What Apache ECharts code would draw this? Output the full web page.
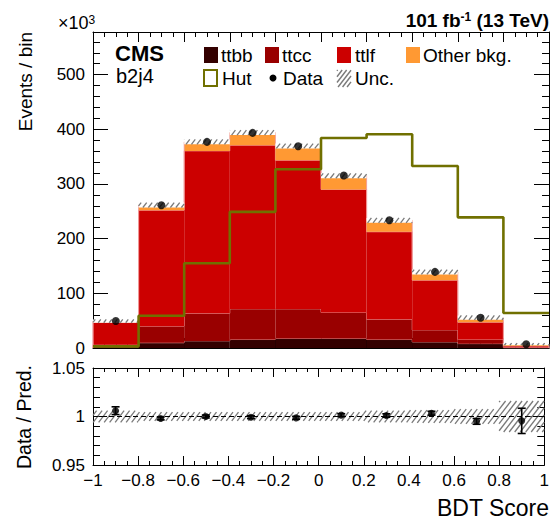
<!DOCTYPE html>
<html><head><meta charset="utf-8">
<script src="https://cdn.jsdelivr.net/npm/echarts@6/dist/echarts.min.js"></script>
<style>html,body{margin:0;padding:0;background:#fff;}#c{width:552px;height:525px;}</style>
</head><body><div id="c"></div>
<script>
// ---- data ----
const binEdges = [-1, -0.8, -0.6, -0.4, -0.2, 0, 0.2, 0.4, 0.6, 0.8, 1];
const ttbb  = [2, 9.5, 13, 15.5, 17.5, 17.5, 15.5, 11, 8, 0.5];
const ttcc  = [4, 30.5, 50.5, 56, 54, 47.5, 37, 22, 7.5, 1];
const ttlf  = [41, 212, 297, 299.5, 272, 225, 160, 91, 31.5, 2];
const other = [2.2, 9.5, 16.5, 23, 26, 25, 21, 15, 8.5, 3.5];
const hut   = [3, 59, 155, 249, 327, 384, 391, 333, 239, 64];
const dataEv = [49.5, 261, 377, 393.5, 369, 315.5, 233.8, 139.3, 55.2, 7];
const mainUnc = [3, 4.5, 4.5, 4.5, 4.5, 4.5, 4.5, 4.5, 4, 2];
const ratio    = [1.006, 0.998, 1.000, 0.9993, 0.9986, 1.0014, 1.001, 1.0034, 0.995, 0.9955];
const ratioErr = [0.004, 0.0015, 0.0015, 0.0015, 0.0015, 0.0015, 0.0018, 0.002, 0.003, 0.013];
const ratioUnc = [0.006, 0.0045, 0.0045, 0.0045, 0.0045, 0.0045, 0.006, 0.0065, 0.0075, 0.016];
const yTicksMain = [0, 100, 200, 300, 400, 500];
const yMaxMain = 578;

const FONT = '"Liberation Sans", Arial, Helvetica, sans-serif';
const COL = {ttbb:'#330000', ttcc:'#990000', ttlf:'#cc0000', other:'#ff9933', hut:'#707000', hatch:'#7a7a7a'};

const n = ttbb.length;
const centers = binEdges.slice(0, n).map((e, i) => (e + binEdges[i + 1]) / 2);

function hatch(x0, y0, x1, y1, sp, m, color, w) {
  const out = [];
  const step = sp * m;
  const kStart = m * x0 + y0, kEnd = m * x1 + y1;
  for (let k = Math.ceil(kStart / step) * step; k <= kEnd; k += step) {
    const xa = Math.max(x0, (k - y1) / m), xb = Math.min(x1, (k - y0) / m);
    if (xb > xa) out.push({type:'line', shape:{x1:xa, y1:k - m * xa, x2:xb, y2:k - m * xb}, style:{stroke:color, lineWidth:w}});
  }
  return out;
}

let base = new Array(n).fill(0);
function stackSeries(name, values, color, z) {
  const tops = base.map((b, i) => b + values[i]);
  const data = values.map((v, i) => [binEdges[i], binEdges[i + 1], base[i], tops[i],
    i > 0 ? tops[i - 1] : 0, i === n - 1 ? 0 : tops[i]]);
  base = tops;
  const edge = {stroke:'rgba(240,150,150,0.8)', lineWidth:1};
  return {
    type:'custom', name, xAxisIndex:0, yAxisIndex:0, z, data,
    encode:{x:[0, 1], y:[2, 3]},
    renderItem:(p, api) => {
      const a = api.coord([api.value(0), api.value(3)]);
      const b = api.coord([api.value(1), api.value(2)]);
      const prev = api.coord([api.value(0), api.value(4)]);
      const nxt = api.coord([api.value(1), api.value(5)]);
      return {type:'group', children:[
        {type:'rect', shape:{x:a[0], y:a[1], width:b[0] - a[0], height:b[1] - a[1]}, style:{fill:color}},
        {type:'line', shape:{x1:a[0], y1:a[1], x2:b[0], y2:a[1]}, style:edge},
        {type:'line', shape:{x1:a[0], y1:prev[1], x2:a[0], y2:a[1]}, style:edge},
        {type:'line', shape:{x1:b[0], y1:a[1], x2:b[0], y2:nxt[1]}, style:edge}
      ]};
    }
  };
}
const stacks = [
  stackSeries('ttbb', ttbb, COL.ttbb, 2),
  stackSeries('ttcc', ttcc, COL.ttcc, 3),
  stackSeries('ttlf', ttlf, COL.ttlf, 4),
  stackSeries('Other bkg.', other, COL.other, 5)
];
const totals = base.slice();

const mainBand = {
  type:'custom', xAxisIndex:0, yAxisIndex:0, z:6,
  data: totals.map((t, i) => [binEdges[i], binEdges[i + 1], t - mainUnc[i], t + mainUnc[i]]),
  encode:{x:[0, 1], y:[2, 3]},
  renderItem:(p, api) => {
    const a = api.coord([api.value(0), api.value(3)]);
    const b = api.coord([api.value(1), api.value(2)]);
    return {type:'group', children:[
      {type:'rect', shape:{x:a[0], y:a[1], width:b[0] - a[0], height:b[1] - a[1]}, style:{fill:'#fff'}},
      ...hatch(a[0], a[1], b[0], b[1], 5.5, 1.3, COL.hatch, 1.3)
    ]};
  }
};

const hutLine = {
  type:'line', xAxisIndex:0, yAxisIndex:0, z:7, step:'end', symbol:'none',
  data: hut.map((v, i) => [binEdges[i], v]).concat([[binEdges[n], hut[n - 1]]]),
  lineStyle:{color:COL.hut, width:2.6}
};

const dataPts = {
  type:'scatter', xAxisIndex:0, yAxisIndex:0, z:8, symbolSize:8,
  itemStyle:{color:'#000'},
  data: dataEv.map((v, i) => [centers[i], v])
};

const ratioBand = {
  type:'custom', xAxisIndex:2, yAxisIndex:4, z:3,
  data: ratioUnc.map((u, i) => [binEdges[i], binEdges[i + 1], 1 - u, 1 + u]),
  encode:{x:[0, 1], y:[2, 3]},
  renderItem:(p, api) => {
    const a = api.coord([api.value(0), api.value(3)]);
    const b = api.coord([api.value(1), api.value(2)]);
    return {type:'group', children: hatch(a[0], a[1], b[0], b[1], 5.5, 1.3, COL.hatch, 1.3)};
  }
};
const ratioErrBars = {
  type:'custom', xAxisIndex:2, yAxisIndex:4, z:5,
  data: ratio.map((r, i) => [centers[i], r - ratioErr[i], r + ratioErr[i]]),
  encode:{x:0, y:[1, 2]},
  renderItem:(p, api) => {
    const lo = api.coord([api.value(0), api.value(1)]);
    const hi = api.coord([api.value(0), api.value(2)]);
    const st = {stroke:'#000', lineWidth:1.6};
    return {type:'group', children:[
      {type:'line', shape:{x1:lo[0], y1:lo[1], x2:hi[0], y2:hi[1]}, style:st},
      {type:'line', shape:{x1:lo[0] - 4, y1:lo[1], x2:lo[0] + 4, y2:lo[1]}, style:st},
      {type:'line', shape:{x1:hi[0] - 4, y1:hi[1], x2:hi[0] + 4, y2:hi[1]}, style:st}
    ]};
  }
};
const ratioPts = {
  type:'scatter', xAxisIndex:2, yAxisIndex:4, z:6, symbolSize:7,
  itemStyle:{color:'#000'},
  data: ratio.map((r, i) => [centers[i], r]),
  markLine:{silent:true, symbol:'none', label:{show:false},
    lineStyle:{color:'#000', type:[5, 3], width:1}, data:[{yAxis:1}]}
};

function axLine(show) { return {show, onZero:false, lineStyle:{color:'#000', width:1}}; }
function xAx(grid, pos, labels, major, minor) {
  return {type:'value', gridIndex:grid, position:pos, min:-1, max:1, interval:0.2,
    axisLine:axLine(true), splitLine:{show:false},
    axisTick:{show:true, inside:true, length:major, lineStyle:{color:'#000'}},
    minorTick:{show:true, splitNumber:4, length:minor, lineStyle:{color:'#000'}},
    axisLabel:{show:labels, margin:7, color:'#000', fontSize:17, fontFamily:FONT,
      formatter:v => String(Math.round(v * 10) / 10).replace('-', '\u2212')}};
}
function yMain(pos, interval, len, labels, line) {
  return {type:'value', gridIndex:0, position:pos, min:0, max:yMaxMain, interval,
    axisLine:axLine(line), splitLine:{show:false},
    axisTick:{show:true, inside:true, length:len, lineStyle:{color:'#000'}},
    axisLabel:{show:labels, showMaxLabel:false, margin:8, color:'#000', fontSize:17, fontFamily:FONT,
      formatter:v => yTicksMain.includes(v) ? String(v) : ''}};
}
function yRatio(pos, labels) {
  return {type:'value', gridIndex:1, position:pos, min:0.95, max:1.05, interval:0.05,
    axisLine:axLine(true), splitLine:{show:false},
    axisTick:{show:true, inside:true, length:14, lineStyle:{color:'#000'}},
    minorTick:{show:true, splitNumber:5, length:7, lineStyle:{color:'#000'}},
    axisLabel:{show:labels, margin:8, color:'#000', fontSize:17, fontFamily:FONT,
      formatter:v => String(Math.round(v * 100) / 100)}};
}

function txt(x, y, text, font, align, vAlign, extra) {
  return Object.assign({type:'text', x, y, z:100,
    style:Object.assign({text, font, fill:'#000', align, verticalAlign:vAlign, textAlign:align, textVerticalAlign:vAlign}, extra || {})});
}
const lf = '19px ' + FONT;
const legendGraphics = [
  {type:'rect', shape:{x:204, y:47, width:14, height:16}, style:{fill:COL.ttbb}, z:100},
  txt(221, 55, 'ttbb', lf, 'left', 'middle'),
  {type:'rect', shape:{x:265, y:47, width:14, height:16}, style:{fill:COL.ttcc}, z:100},
  txt(282, 55, 'ttcc', lf, 'left', 'middle'),
  {type:'rect', shape:{x:337, y:47, width:14, height:16}, style:{fill:COL.ttlf}, z:100},
  txt(355, 55, 'ttlf', lf, 'left', 'middle'),
  {type:'rect', shape:{x:406, y:47, width:14, height:16}, style:{fill:COL.other}, z:100},
  txt(423, 55, 'Other bkg.', lf, 'left', 'middle'),
  {type:'rect', shape:{x:204, y:70, width:13, height:16}, style:{fill:'none', stroke:COL.hut, lineWidth:2}, z:100},
  txt(222, 78, 'Hut', lf, 'left', 'middle'),
  {type:'circle', shape:{cx:273, cy:78, r:3.5}, style:{fill:'#000'}, z:100},
  txt(283, 78, 'Data', lf, 'left', 'middle'),
  {type:'group', z:100, children: hatch(337, 70, 351, 87, 4.5, 1.3, COL.hatch, 1.4)},
  txt(355, 78, 'Unc.', lf, 'left', 'middle')
];

const chart = echarts.init(document.getElementById('c'), null, {renderer:'svg', width:552, height:525});
chart.setOption({
  animation:false,
  backgroundColor:'#fff',
  grid:[
    {left:93, top:32, width:456, height:316},
    {left:93, top:368, width:456, height:97}
  ],
  xAxis:[
    xAx(0, 'bottom', false, 10, 5),
    xAx(0, 'top', false, 10, 5),
    xAx(1, 'bottom', true, 9, 4),
    xAx(1, 'top', false, 9, 4)
  ],
  yAxis:[
    yMain('left', 100, 15, true, true),
    yMain('left', 20, 7, false, false),
    yMain('right', 100, 15, false, true),
    yMain('right', 20, 7, false, false),
    yRatio('left', true),
    yRatio('right', false)
  ],
  series:[...stacks, mainBand, hutLine, dataPts, ratioBand, ratioErrBars, ratioPts],
  graphic:[
    txt(115, 53, 'CMS', 'bold 22px ' + FONT, 'left', 'middle'),
    txt(116, 76, 'b2j4', '20px ' + FONT, 'left', 'middle'),
    txt(549, 20, '{a|101 fb}{s|-1}{a| (13 TeV)}', 'bold 19px ' + FONT, 'right', 'middle', {
      rich:{a:{fontSize:19, fontWeight:'bold', fontFamily:FONT, fill:'#000'},
            s:{fontSize:12, fontWeight:'bold', fontFamily:FONT, fill:'#000', verticalAlign:'top'}}}),
    txt(58, 23, '{a|\u00d710}{s|3}', '18px ' + FONT, 'left', 'middle', {
      rich:{a:{fontSize:18, fontFamily:FONT, fill:'#000'},
            s:{fontSize:12, fontFamily:FONT, fill:'#000', verticalAlign:'top'}}}),
    Object.assign(txt(25, 32, 'Events / bin', '19px ' + FONT, 'right', 'middle'), {rotation:Math.PI / 2}),
    Object.assign(txt(24, 417, 'Data / Pred.', '19.5px ' + FONT, 'center', 'middle'), {rotation:Math.PI / 2}),
    txt(549, 508, 'BDT Score', '23px ' + FONT, 'right', 'middle'),
    ...legendGraphics
  ]
});
</script></body></html>
